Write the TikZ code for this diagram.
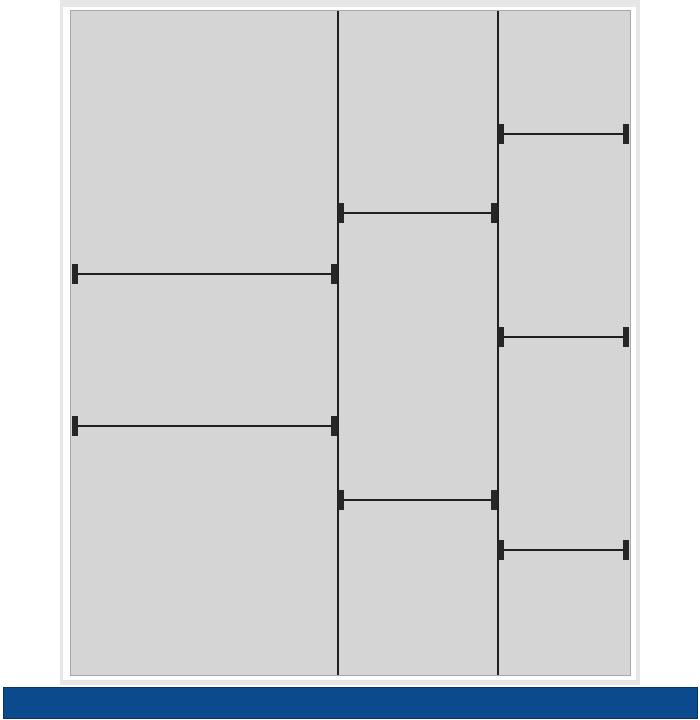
\documentclass[tikz,border=0pt]{standalone}
\begin{document}
\begin{tikzpicture}[x=1pt,y=-1pt,
  divider/.style={draw=black!88,line width=2pt},
  shelf/.style={draw=black!88,line width=2.2pt},
  capbox/.style={fill=black!85,draw=none}]
\definecolor{outerg}{HTML}{E6E6E6}
\definecolor{panelg}{HTML}{D5D5D5}
\definecolor{panelb}{HTML}{A8A8A8}
\definecolor{barblue}{HTML}{0B4A8C}
\useasboundingbox (0,0) rectangle (700,720);
\fill[white] (0,0) rectangle (700,720);
% outer frame
\fill[outerg] (60,0) rectangle (640,685);
\fill[white] (63,7) rectangle (636,680);
% inner panel
\filldraw[fill=panelg,draw=panelb,line width=1pt] (70.5,10.5) rectangle (630,675);
% blue base bar
\filldraw[fill=barblue,draw=barblue!70!black,line width=0.8pt] (3,687) rectangle (697,718);
% vertical dividers
\coordinate (v1t) at (337.5,11); \coordinate (v1b) at (337.5,675);
\coordinate (v2t) at (497.5,11); \coordinate (v2b) at (497.5,675);
\draw[divider] (v1t) -- (v1b);
\draw[divider] (v2t) -- (v2b);
% shelves: \shelfbar{xleft}{xright}{y}
\newcommand{\shelfbar}[3]{%
  \coordinate (sl) at (#1+3,#3); \coordinate (sr) at (#2-3,#3);
  \draw[shelf] (sl) -- (sr);
  \fill[black!85] (#1,#3-10) rectangle (#1+6,#3+10);
  \fill[black!85] (#2-6,#3-10) rectangle (#2,#3+10);
}
\shelfbar{72}{337}{274}
\shelfbar{72}{337}{426}
\shelfbar{338}{497}{213}
\shelfbar{338}{497}{500}
\shelfbar{498}{629}{134}
\shelfbar{498}{629}{337}
\shelfbar{498}{629}{550}
\end{tikzpicture}
\end{document}
